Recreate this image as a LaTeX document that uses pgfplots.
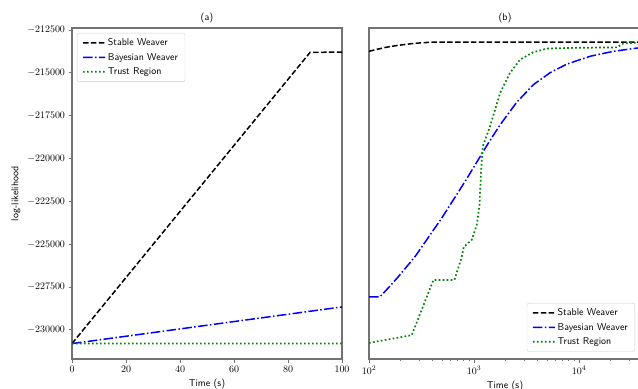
\documentclass[border=0pt]{standalone}
\usepackage{pgfplots}
\pgfplotsset{compat=1.18}
\definecolor{spine}{RGB}{115,115,115}
\definecolor{mplgreen}{RGB}{0,135,0}
\pgfplotsset{
  every axis/.append style={
    scale only axis, height=331bp,
    axis line style={spine, line width=1.1bp},
    tick style={spine, line width=0.8bp},
    tick align=outside, tick pos=left,
    major tick length=3.5bp, minor tick length=2bp,
    ymin=-231700, ymax=-212380,
    title style={font=\sffamily, yshift=-4bp},
    xlabel style={font=\sffamily},
    ylabel style={font=\sffamily},
    legend cell align=left,
    legend style={font=\sffamily, draw=black!20, rounded corners=2bp, fill=white, fill opacity=0.8, text opacity=1, draw opacity=1, inner xsep=5bp, inner ysep=3.5bp, row sep=2bp},
    legend image code/.code={\draw[#1, opacity=1] (0bp,0bp) -- (11bp,0.15bp) -- (22bp,0bp);},
  },
  sw/.style={black, line width=1.5bp, dash pattern=on 5.5bp off 2.4bp},
  bw/.style={blue, line width=1.5bp, dash pattern=on 9.6bp off 2.4bp on 1.5bp off 2.4bp},
  tr/.style={mplgreen, line width=1.7bp, dash pattern=on 1.7bp off 2.3bp, line cap=butt},
}
\begin{document}
\begin{tikzpicture}
\useasboundingbox (0,0) rectangle (638bp,389bp);
\begin{axis}[
  at={(72bp,30bp)}, anchor=south west, width=270bp,
  xmin=0, xmax=100, xtick={0,20,...,100},
  ytick={-230000,-227500,...,-212500},
  scaled y ticks=false,
  yticklabel style={/pgf/number format/.cd, fixed, set thousands separator={}},
  ylabel={log-likelihood}, xlabel={Time (s)}, title={(a)},
  legend style={at={(0.0185,0.985)}, anchor=north west},
]
\addplot[sw] coordinates {(0,-230800) (88.2,-213800) (100,-213790)};
\addlegendentry{Stable Weaver}
\addplot[bw] coordinates {(0,-230800) (100,-228660)};
\addlegendentry{Bayesian Weaver}
\addplot[tr] coordinates {(0,-230800) (50,-230790) (100,-230800)};
\addlegendentry{Trust Region}
\end{axis}
\begin{axis}[
  at={(369bp,30bp)}, anchor=south west, width=272bp,
  xmode=log, xmin=100, xmax=38900,
  ytick=\empty,
  xlabel={Time (s)}, title={(b)},
  legend style={at={(0.978,0.022)}, anchor=south east},
]
\addplot[sw] coordinates {(100,-213740) (120,-213620) (150,-213490) (190,-213390) (250,-213300) (320,-213240) (400,-213210) (600,-213200) (1000,-213200) (38900,-213200)};
\addlegendentry{Stable Weaver}
\addplot[bw] coordinates {(100,-228070) (127,-228070) (150,-227600) (190,-226900) (274,-225730) (492,-223480) (821,-221340) (1368,-219100) (1771,-218030) (2553,-216710) (3673,-215690) (5297,-214990) (7640,-214490) (12740,-214030) (21240,-213740) (38900,-213520)};
\addlegendentry{Bayesian Weaver}
\addplot[tr] coordinates {(100,-230760) (255,-230310) (410,-227090) (650,-227090) (760,-225800) (800,-225150) (950,-224750) (1062,-223880) (1124,-222810) (1166,-220850) (1210,-219300) (1419,-218130) (1771,-216170) (2203,-215000) (2742,-214230) (3648,-213800) (4955,-213580) (8770,-213540) (23010,-213510) (26250,-213290) (38900,-213210)};
\addlegendentry{Trust Region}
\end{axis}
\end{tikzpicture}
\end{document}
